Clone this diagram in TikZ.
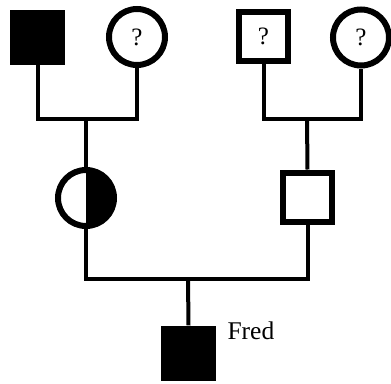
\documentclass[tikz,border=0pt]{standalone}
\usepackage{fontspec}
\setmainfont{Liberation Serif}
\begin{document}
\begin{tikzpicture}[x=1pt,y=-1pt,
  conn/.style={line width=4pt},
  malebox/.style={rectangle,draw,line width=6pt,minimum size=49pt,inner sep=0pt,fill=white},
  femcirc/.style={circle,draw,line width=6pt,minimum size=56pt,inner sep=0pt,fill=white},
  affected/.style={rectangle,fill=black,minimum size=55pt,inner sep=0pt},
  qmark/.style={font=\fontsize{25}{30}\selectfont},
  half/.style={circle,draw,line width=6pt,minimum size=56pt,inner sep=0pt,fill=white,
    path picture={\fill[black] (path picture bounding box.south) rectangle (path picture bounding box.north east);}}]
\useasboundingbox (0,0) rectangle (391,383);
% junction coordinates
\coordinate (jL) at (84,119);
\coordinate (jR) at (307,119);
\coordinate (jB) at (188,279);
% top generation
\node[affected] (gf1) at (37.5,37) {};
\node[femcirc,qmark] (gm1) at (137,37) {?};
\node[malebox,qmark] (gf2) at (263.5,36.5) {?};
\node[femcirc,qmark] (gm2) at (361,37.5) {?};
% parents
\node[half] (mom) at (86,198) {};
\node[malebox] (dad) at (307.5,197) {};
% child
\node[affected] (fred) at (188.5,353) {};
\node[anchor=base west,font=\fontsize{25.5}{30}\selectfont] (name) at (224,339) {Fred};
% connectors
\draw[conn] (gf1.south) |- (jL) -| (gm1.south);
\draw[conn] (gf2.south) |- (jR) -| (gm2.south);
\draw[conn] (jL -| mom.north) -- (mom.north);
\draw[conn] (jR) -- (dad.north);
\draw[conn] (mom.south) |- (jB) -| (dad.south);
\draw[conn] (jB) -- (fred.north);
\end{tikzpicture}
\end{document}
